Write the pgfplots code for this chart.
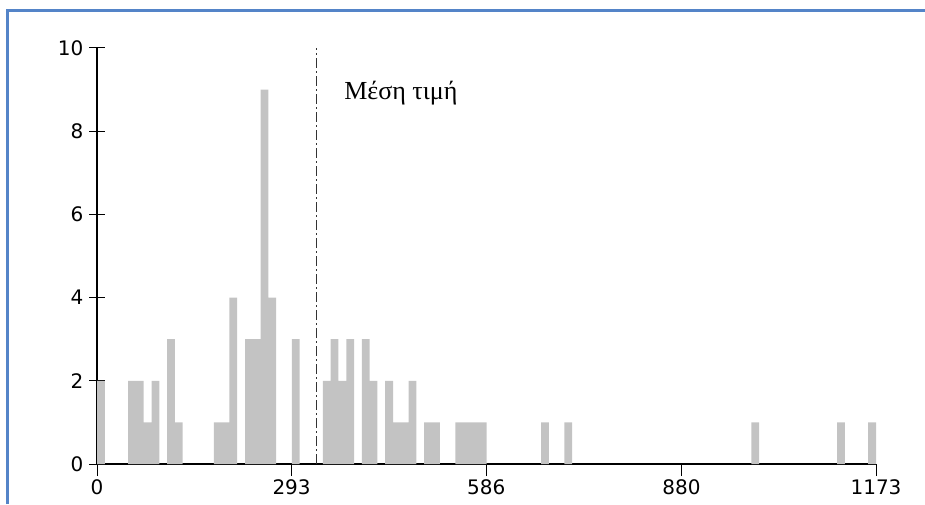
\documentclass[border=0pt]{standalone}
\usepackage{fontspec}
\setmainfont{DejaVu Sans}
\newfontfamily\greekserif{Liberation Serif}
\usepackage{pgfplots}
\pgfplotsset{compat=1.18}
\definecolor{barfill}{RGB}{195,195,195}
\definecolor{frameblue}{RGB}{84,132,200}
\begin{document}
\begin{tikzpicture}[x=1pt,y=1pt]
\path[use as bounding box] (0,0) rectangle (925,504);
\draw[frameblue, line width=2.5pt] (7.5,0) -- (7.5,493.5) -- (925,493.5);
\begin{axis}[
  at={(97pt,40pt)}, anchor=south west,
  scale only axis, width=779pt, height=416pt,
  xmin=0, xmax=100, ymin=0, ymax=10,
  axis x line*=bottom, axis y line*=left,
  axis line style={black, line width=1.3pt},
  xtick={0,24.98,49.96,75.02,100}, xticklabels={0,293,586,880,1173},
  ytick={0,2,...,10},
  xtick align=outside, ytick align=center,
  xtick style={black, line width=1pt, /pgfplots/major tick length=12pt},
  ytick style={black, line width=1pt, /pgfplots/major tick length=16pt},
  ticklabel style={font=\fontsize{20}{24}\selectfont},
  xticklabel style={yshift=-8pt},
  yticklabel style={xshift=-8pt},
  /pgf/number format/assume math mode=true,
  clip=false,
]
\addplot[ybar, bar width=1, fill=barfill, draw=none] coordinates {
(0.5,2) (4.5,2) (5.5,2) (6.5,1) (7.5,2) (9.5,3) (10.5,1) (15.5,1) (16.5,1) (17.5,4)
(19.5,3) (20.5,3) (21.5,9) (22.5,4) (25.5,3) (29.5,2) (30.5,3) (31.5,2) (32.5,3)
(34.5,3) (35.5,2) (37.5,2) (38.5,1) (39.5,1) (40.5,2) (42.5,1) (43.5,1) (46.5,1)
(47.5,1) (48.5,1) (49.5,1) (57.5,1) (60.5,1) (84.5,1) (95.5,1) (99.5,1)
};
\addplot[black!80, line width=1pt, dash pattern=on 10pt off 3pt on 2pt off 3pt] coordinates {(28.18,0) (28.18,10)};
\node[anchor=base west, font=\greekserif\fontsize{26}{30}\selectfont] at (axis cs:31.3,8.77) {Μέση τιμή};
\end{axis}
\end{tikzpicture}
\end{document}
